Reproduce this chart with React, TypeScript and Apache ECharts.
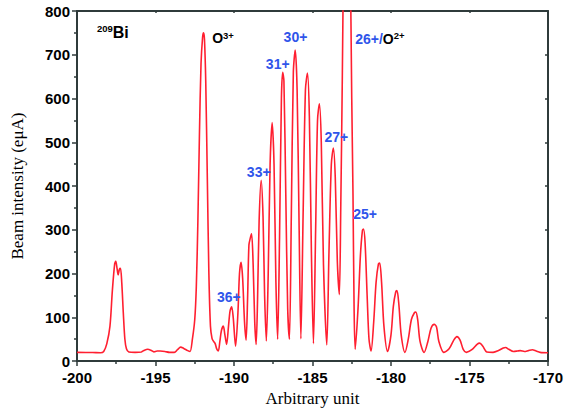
import React, { useEffect, useRef } from 'react';
import * as echarts from 'echarts';

// Axis ranges / ticks
const xRange = { min: -200, max: -170, interval: 5 };
const yRange = { min: 0, max: 800, interval: 100 };

// Scan: x (arbitrary unit), y (beam intensity, eμA)
const scanX: number[] = [
  -200, -199, -198.5, -198.3, -198.1, -197.9, -197.75, -197.6, -197.53, -197.45, -197.38, -197.3, -197.23,
  -197.15, -197.05, -196.95, -196.85, -196.7, -196.3, -195.9, -195.7, -195.5, -195.3, -195.1, -194.9,
  -194.7, -194.4, -194.1, -193.8, -193.6, -193.4, -193.2, -192.95, -192.8, -192.65, -192.5, -192.4,
  -192.3, -192.2, -192.1, -192.0, -191.94, -191.88, -191.8, -191.7, -191.6, -191.5, -191.4, -191.3,
  -191.2, -191.1, -191.0, -190.9, -190.8, -190.68, -190.58, -190.47, -190.35, -190.25, -190.15, -190.05,
  -189.9, -189.75, -189.65, -189.55, -189.45, -189.33, -189.23, -189.13, -189.05, -188.97, -188.88,
  -188.78, -188.68, -188.59, -188.5, -188.4, -188.27, -188.15, -188.05, -187.94, -187.82, -187.7,
  -187.57, -187.45, -187.33, -187.22, -187.1, -186.98, -186.9, -186.82, -186.7, -186.58, -186.47,
  -186.35, -186.22, -186.1, -185.98, -185.85, -185.74, -185.6, -185.45, -185.32, -185.2, -185.07,
  -184.94, -184.8, -184.68, -184.56, -184.44, -184.3, -184.09, -183.95, -183.8, -183.67, -183.55,
  -183.42, -183.29, -183.2, -183.1, -183.0, -182.8, -182.6, -182.5, -182.42, -182.35, -182.28, -182.1,
  -181.95, -181.82, -181.75, -181.65, -181.52, -181.4, -181.27, -181.1, -180.95, -180.8, -180.72,
  -180.6, -180.45, -180.22, -180.0, -179.85, -179.7, -179.62, -179.5, -179.35, -179.11, -178.9, -178.7,
  -178.5, -178.42, -178.3, -178.15, -177.89, -177.65, -177.45, -177.25, -177.1, -176.95, -176.63,
  -176.3, -176.0, -175.8, -175.6, -175.4, -175.2, -174.85, -174.5, -174.35, -174.15, -173.9, -173.5,
  -173.15, -172.85, -172.7, -172.5, -172.2, -171.95, -171.77, -171.5, -171.25, -171.0, -170.75, -170.5,
  -170,
];
const scanY: number[] = [
  20, 19.5, 19, 22, 40, 80, 160, 222, 228, 212, 197, 210, 212,
  180, 110, 50, 28, 21, 20, 21, 25, 27, 25, 21, 23,
  23, 22, 20, 20, 26, 32, 29, 24, 22, 50, 95, 170,
  320, 520, 680, 740, 750, 735, 640, 420, 200, 80, 52, 45,
  40, 28, 23, 45, 70, 80, 60, 38, 80, 115, 124, 100,
  34, 110, 200, 226, 190, 90, 48, 150, 265, 280, 291,
  220, 90, 38, 140, 320, 413, 330, 150, 46, 200, 450,
  545, 450, 180, 50, 280, 600, 660, 640, 380, 120, 50,
  330, 660, 711, 620, 300, 51, 330, 620, 658, 560, 250,
  40, 300, 550, 588, 500, 220, 37, 250, 450, 487, 420,
  230, 152, 350, 650, 1000, 1500, 950, 600, 380, 120, 27, 120,
  240, 298, 302, 270, 150, 50, 23, 90, 180, 222, 224,
  180, 80, 22, 60, 125, 158, 161, 130, 60, 20, 50, 95,
  111, 112, 95, 45, 20, 45, 75, 84, 78, 45, 20,
  28, 48, 56, 48, 27, 20, 26, 39, 41, 34, 21, 20,
  24, 30, 31, 27, 22, 23, 24, 22, 24, 26, 23, 20,
  19,
];

// Annotations: anchor (left, vertical middle) in data coordinates
const annotationX: number[] = [-198.73, -191.39, -191.08, -189.18, -187.97, -186.84, -184.24, -182.28, -182.41];
const annotationY: number[] = [750, 738, 146, 433, 680, 741, 513, 737, 335];
const annotationText: string[] = [
  '{s|209}{k|Bi}',
  '{o|O}{s|3+}',
  '{b|36+}',
  '{b|33+}',
  '{b|31+}',
  '{b|30+}',
  '{b|27+}',
  '{b|26+/}{o|O}{s|2+}',
  '{b|25+}',
];

const AXIS = '#2f3b3b';
const BLUE = '#2f55ea';
const RED = '#ff1f30';

export default function App() {
  const ref = useRef<HTMLDivElement>(null);
  useEffect(() => {
    document.body.style.margin = '0';
    const chart = echarts.init(ref.current!, null, { renderer: 'svg' });
    const tickStyle = { color: AXIS, width: 1.5 };
    chart.setOption({
      animation: false,
      backgroundColor: '#fff',
      grid: { left: 77, top: 11, right: 15, bottom: 50, containLabel: false },
      xAxis: [
        {
          type: 'value', position: 'bottom', min: xRange.min, max: xRange.max, interval: xRange.interval,
          name: 'Arbitrary unit', nameLocation: 'middle', nameGap: 27,
          nameTextStyle: { fontFamily: 'Liberation Serif', fontSize: 17, color: '#000' },
          axisLine: { show: true, onZero: false, lineStyle: { color: AXIS, width: 2 } },
          axisTick: { show: true, inside: false, length: 5, lineStyle: tickStyle },
          minorTick: { show: true, splitNumber: 2, length: 3, lineStyle: tickStyle },
          axisLabel: { fontFamily: 'Liberation Sans', fontWeight: 'bold', fontSize: 15, color: '#000', margin: 9 },
          splitLine: { show: false },
        },
        {
          type: 'value', position: 'top', min: xRange.min, max: xRange.max, interval: xRange.interval,
          axisLine: { show: true, onZero: false, lineStyle: { color: AXIS, width: 2 } },
          axisTick: { show: true, inside: true, length: 2, lineStyle: tickStyle },
          axisLabel: { show: false },
          splitLine: { show: false },
        },
      ],
      yAxis: [
        {
          type: 'value', position: 'left', min: yRange.min, max: yRange.max, interval: yRange.interval,
          name: 'Beam intensity (eμA)', nameLocation: 'middle', nameGap: 51,
          nameTextStyle: { fontFamily: 'Liberation Serif', fontSize: 17, color: '#000' },
          axisLine: { show: true, onZero: false, lineStyle: { color: AXIS, width: 2 } },
          axisTick: { show: true, inside: false, length: 5, lineStyle: tickStyle },
          minorTick: { show: true, splitNumber: 2, length: 3, lineStyle: tickStyle },
          axisLabel: { fontFamily: 'Liberation Sans', fontWeight: 'bold', fontSize: 15, color: '#000', margin: 7 },
          splitLine: { show: false },
        },
        {
          type: 'value', position: 'right', min: yRange.min, max: yRange.max, interval: yRange.interval,
          axisLine: { show: true, onZero: false, lineStyle: { color: AXIS, width: 2 } },
          axisTick: { show: true, inside: true, length: 3, lineStyle: tickStyle },
          axisLabel: { show: false },
          splitLine: { show: false },
        },
      ],
      series: [
        {
          type: 'line',
          xAxisIndex: 0,
          yAxisIndex: 0,
          data: scanX.map((x, i) => [x, scanY[i]]),
          showSymbol: false,
          smooth: 0.3,
          clip: true,
          lineStyle: { color: RED, width: 1.6 },
        },
      ],
    });

    const rich = {
      b: { fontFamily: 'Liberation Sans', fontWeight: 'bold', fontSize: 14, fill: BLUE, color: BLUE, lineHeight: 16 },
      k: { fontFamily: 'Liberation Sans', fontWeight: 'bold', fontSize: 16, fill: '#000', color: '#000', lineHeight: 18 },
      o: { fontFamily: 'Liberation Sans', fontWeight: 'bold', fontSize: 14, fill: '#000', color: '#000', lineHeight: 16 },
      s: { fontFamily: 'Liberation Sans', fontWeight: 'bold', fontSize: 9.5, fill: '#000', color: '#000', lineHeight: 10, verticalAlign: 'top' },
    };
    const graphics = annotationText.map((t, i) => {
      const p = chart.convertToPixel({ xAxisIndex: 0, yAxisIndex: 0 }, [annotationX[i], annotationY[i]]) as number[];
      return {
        type: 'text',
        x: p[0],
        y: p[1],
        z: 100,
        style: { text: t, rich, align: 'left', verticalAlign: 'middle' },
      };
    });
    chart.setOption({ graphic: graphics });
    return () => chart.dispose();
  }, []);
  return <div ref={ref} style={{ width: 566, height: 412 }} />;
}
